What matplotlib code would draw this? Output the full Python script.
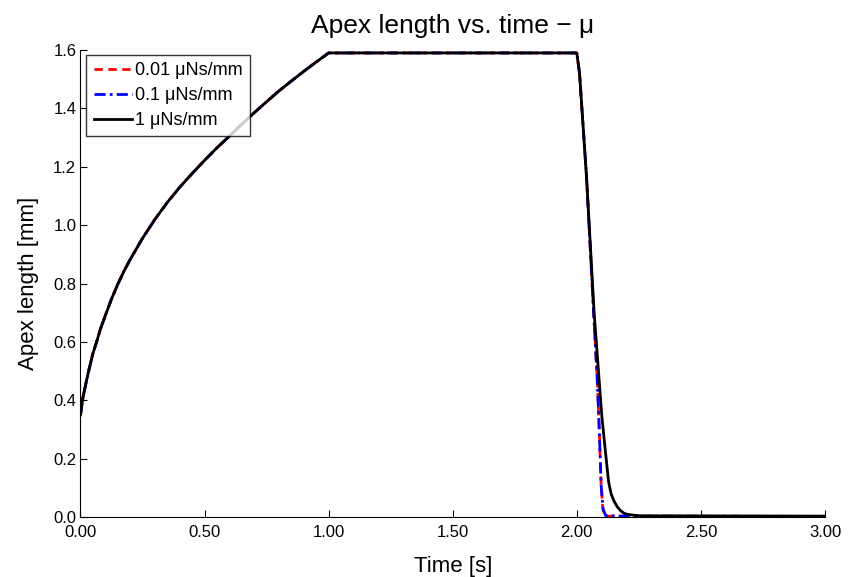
import numpy as np
import matplotlib
matplotlib.use("Agg")
import matplotlib.pyplot as plt

plt.rcParams['font.family'] = ['Liberation Sans', 'DejaVu Sans']

# Rising phase (shared by all three damping values)
t_rise = [0.0, 0.005, 0.01, 0.02, 0.03, 0.04, 0.05, 0.065, 0.08, 0.1, 0.125, 0.15,
          0.175, 0.2, 0.25, 0.3, 0.35, 0.4, 0.45, 0.5, 0.55, 0.6, 0.65, 0.7,
          0.75, 0.8, 0.85, 0.9, 0.95, 1.0]
y_rise = [0.35, 0.38, 0.41, 0.45, 0.49, 0.525, 0.56, 0.60, 0.643, 0.69, 0.747, 0.797,
          0.842, 0.882, 0.955, 1.02, 1.078, 1.13, 1.177, 1.222, 1.265, 1.305, 1.346, 1.385,
          1.423, 1.46, 1.494, 1.527, 1.559, 1.59]

# Plateau
t_plateau = [2.0]
y_plateau = [1.59]

# Drop phase, 1 uNs/mm (black)
t_drop_1 = [2.011, 2.039, 2.070, 2.101, 2.115, 2.128, 2.138, 2.149, 2.163, 2.177,
            2.19, 2.204, 2.23, 2.26, 3.0]
y_drop_1 = [1.52, 1.167, 0.697, 0.344, 0.227, 0.121, 0.08, 0.056, 0.035, 0.021,
            0.013, 0.009, 0.006, 0.004, 0.003]

# Drop phase, 0.01 uNs/mm (red)
t_drop_001 = [2.011, 2.039, 2.068, 2.083, 2.091, 2.098, 2.105, 2.113, 3.0]
y_drop_001 = [1.52, 1.167, 0.697, 0.46, 0.286, 0.109, 0.027, 0.003, 0.002]

# Drop phase, 0.1 uNs/mm (blue)
t_drop_01 = [2.011, 2.039, 2.068, 2.083, 2.091, 2.098, 2.106, 2.116, 2.18, 3.0]
y_drop_01 = [1.52, 1.167, 0.697, 0.46, 0.286, 0.109, 0.027, 0.005, 0.003, 0.002]

labels = ["0.01 \u03bcNs/mm", "0.1 \u03bcNs/mm", "1 \u03bcNs/mm"]
x_ticks = [0.0, 0.5, 1.0, 1.5, 2.0, 2.5, 3.0]
y_ticks = [0.0, 0.2, 0.4, 0.6, 0.8, 1.0, 1.2, 1.4, 1.6]

fig = plt.figure(figsize=(8.58, 5.77), dpi=100)
ax = fig.add_axes([0.0938, 0.104, 0.8677, 0.8093])

def series(td, yd):
    return (np.array(t_rise + t_plateau + td), np.array(y_rise + y_plateau + yd))

t, y = series(t_drop_001, y_drop_001)
ax.plot(t, y, color='red', linestyle=(0, (3.0, 2.0)), linewidth=2.0, label=labels[0])
t, y = series(t_drop_01, y_drop_01)
ax.plot(t, y, color='blue', linestyle=(0, (4.0, 1.5, 1.0, 1.5)), linewidth=2.0, label=labels[1])
t, y = series(t_drop_1, y_drop_1)
ax.plot(t, y, color='black', linestyle='-', linewidth=2.0, label=labels[2])

ax.set_xlim(0, 3.0)
ax.set_ylim(0, 1.6)
ax.set_xticks(x_ticks)
ax.set_xticklabels([f"{v:.2f}" for v in x_ticks])
ax.set_yticks(y_ticks)
ax.set_yticklabels([f"{v:.1f}" for v in y_ticks])
ax.tick_params(direction='in', length=5, width=0.8, labelsize=12, colors='black')
ax.tick_params(axis='x', pad=6)
ax.tick_params(axis='y', pad=3)
ax.spines['top'].set_visible(False)
ax.spines['right'].set_visible(False)
for s in ['left', 'bottom']:
    ax.spines[s].set_linewidth(0.8)

ax.set_xlabel("Time [s]", fontsize=16, labelpad=11)
ax.set_ylabel("Apex length [mm]", fontsize=16, labelpad=10)
ax.set_title("Apex length vs. time \u2212 \u03bc", fontsize=19, pad=12)

leg = ax.legend(loc='upper left', bbox_to_anchor=(0.008, 0.99), fontsize=13,
                frameon=True, fancybox=False, handlelength=2.1, handletextpad=0.2,
                borderpad=0.4, labelspacing=0.45, borderaxespad=0.0)
leg.get_frame().set_edgecolor('black')
leg.get_frame().set_linewidth(1.0)

fig.savefig("out.png", dpi=100)
